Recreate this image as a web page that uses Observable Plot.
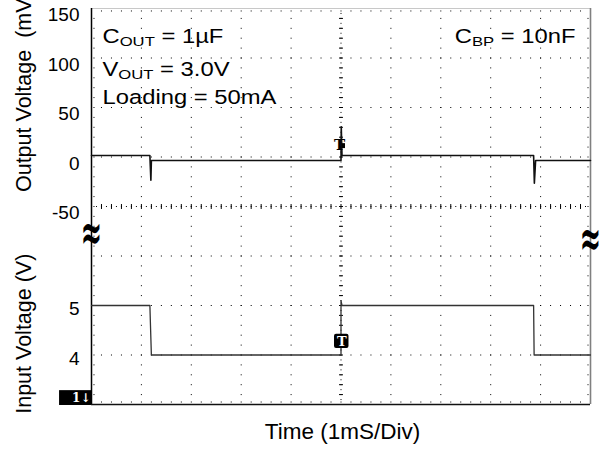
<!DOCTYPE html>
<html><head><meta charset="utf-8">
<script src="https://cdn.jsdelivr.net/npm/d3@7"></script>
<script src="https://cdn.jsdelivr.net/npm/@observablehq/plot@0.6"></script>
<style>
body{margin:0;background:#fff;}
#chart svg{display:block;overflow:visible;}
</style></head><body><div id="chart"></div>
<script>
// Time in ms (1 ms per division)
const outTime = [0, 1.17, 1.19, 1.20, 5.00, 5.005, 5.02, 8.86, 8.875, 8.90, 10];
// Output voltage deviation (mV)
const outMV   = [8, 8, -17, 3, 3, 37, 8, 8, -20, 3, 3];
const inTime  = [0, 1.17, 1.20, 5.00, 5.00, 5.02, 8.86, 8.87, 10];
// Input voltage (V)
const inV     = [5, 5, 4, 4, 5.1, 5, 5, 4, 4];
const outTicks = [150, 100, 50, 0, -50];
const inTicks  = [5, 4];
const notes = ["C_{OUT} = 1µF", "V_{OUT} = 3.0V", "Loading = 50mA", "C_{BP} = 10nF"];
const labels = ["Output Voltage\u00A0 (mV)", "Input Voltage (V)", "Time (1mS/Div)"];
const markers = ["1↓", "T", "≈"];

// scope divisions: output trace and input trace share one 8-division screen
const yOut = mv => 4.87 + mv / 50;
const yIn  = v => v - 3;

const outData = outTime.map((t, i) => ({t, y: yOut(outMV[i])}));
const inData  = inTime.map((t, i) => ({t, y: yIn(inV[i])}));

const outTickPos = outTicks.map(yOut);
const inTickPos  = inTicks.map(yIn);
const tickLabel = new Map([...outTickPos.map((p, i) => [p, String(outTicks[i])]), ...inTickPos.map((p, i) => [p, String(inTicks[i])])]);

const gridX = [1, 2, 3, 4, 6, 7, 8, 9];
const gridY = [1, 2, 3, 5, 6, 7];
const minorX = d3.range(0, 50.5, 1).map(i => i * 0.2);
const minorY = d3.range(0, 40.5, 1).map(i => i * 0.2);

const sans = "'Liberation Sans', Arial, Helvetica, sans-serif";
const serif = "'DejaVu Serif', 'Liberation Serif', serif";

const plot = Plot.plot({
  width: 611, height: 450,
  marginLeft: 91, marginRight: 21, marginTop: 8, marginBottom: 46,
  x: {domain: [0, 10], axis: null},
  y: {domain: [0, 8], axis: null},
  style: {fontFamily: sans, background: "#fff", overflow: "visible"},
  marks: [
    // dotted division grid
    Plot.ruleX(gridX, {stroke: "#000", strokeWidth: 1, strokeDasharray: "1,8.9"}),
    Plot.ruleY(gridY, {stroke: "#000", strokeWidth: 1, strokeDasharray: "1,8.98"}),
    // centre cross with minor ticks
    Plot.ruleX([5], {stroke: "#000", strokeWidth: 1, strokeDasharray: "1,3.95"}),
    Plot.ruleY([4], {stroke: "#000", strokeWidth: 1, strokeDasharray: "1,3.99"}),
    Plot.link(minorX, {x1: d => d, x2: d => d, y1: 3.95, y2: 4.05, stroke: "#000", strokeWidth: 1}),
    Plot.link(minorY, {y1: d => d, y2: d => d, x1: 4.96, x2: 5.04, stroke: "#000", strokeWidth: 1}),
    // edge minor dots
    Plot.ruleX([0.05, 9.95], {stroke: "#000", strokeWidth: 1, strokeDasharray: "1,8.9"}),
    Plot.ruleY([0.05, 7.95], {stroke: "#000", strokeWidth: 1, strokeDasharray: "1,8.98"}),
    // frame
    Plot.ruleY([8], {stroke: "#c8c8c8", strokeWidth: 1}),
    Plot.ruleX([10], {stroke: "#808080", strokeWidth: 1.6}),
    Plot.ruleY([0], {stroke: "#111", strokeWidth: 1.4}),
    Plot.ruleX([0], {stroke: "#000", strokeWidth: 1.5}),
    // traces
    Plot.line(inData, {x: "t", y: "y", stroke: "#333", strokeWidth: 1.3}),
    Plot.line(outData, {x: "t", y: "y", stroke: "#111", strokeWidth: 1.6}),
    // axes
    Plot.axisY(outTickPos, {anchor: "left", tickSize: 0, tickPadding: 12, fontSize: 19, label: null, tickFormat: d => tickLabel.get(d), fill: "#000"}),
    Plot.axisY(inTickPos, {anchor: "left", tickSize: 0, tickPadding: 12, fontSize: 19, label: null, dy: 3.5, tickFormat: d => tickLabel.get(d), fill: "#000"}),
    // axis titles
    Plot.text([labels[0]], {text: d => d, frameAnchor: "left", y: 6.32, dx: -61, rotate: -90, textAnchor: "middle", lineAnchor: "bottom", fontSize: 21.5, fill: "#000"}),
    Plot.text([labels[1]], {text: d => d, frameAnchor: "left", y: 1.43, dx: -61, rotate: -90, textAnchor: "middle", lineAnchor: "bottom", fontSize: 21.5, fill: "#000"}),
    Plot.text([labels[2]], {text: d => d, x: 5.03, frameAnchor: "bottom", dy: 34, textAnchor: "middle", lineAnchor: "bottom", fontSize: 22.5, fill: "#000"}),
    // annotations
    Plot.text([notes[0]], {text: d => d, x: 0.22, y: 7.31, textAnchor: "start", lineAnchor: "bottom", fontSize: 19.5, fill: "#000"}),
    Plot.text([notes[1]], {text: d => d, x: 0.22, y: 6.63, textAnchor: "start", lineAnchor: "bottom", fontSize: 19.5, fill: "#000"}),
    Plot.text([notes[2]], {text: d => d, x: 0.22, y: 6.07, textAnchor: "start", lineAnchor: "bottom", fontSize: 19.5, fill: "#000"}),
    Plot.text([notes[3]], {text: d => d, x: 9.70, y: 7.31, textAnchor: "end", lineAnchor: "bottom", fontSize: 19.5, fill: "#000"}),
    // channel ground marker
    Plot.rect([0], {x1: -0.64, x2: 0, y1: -0.02, y2: 0.28, fill: "#000"}),
    Plot.text([markers[0]], {text: d => d, x: 0, y: 0.13, dx: -1, textAnchor: "end", fill: "#fff", fontFamily: serif, fontWeight: "bold", fontSize: 12}),
    // trigger markers
    Plot.rect([0], {x1: 4.87, x2: 5.16, y1: 1.13, y2: 1.42, fill: "#000", rx: 2}),
    Plot.text([markers[1]], {text: d => d, x: 5.015, y: 1.275, fill: "#fff", fontFamily: serif, fontWeight: "bold", fontSize: 13}),
    Plot.text([markers[1]], {text: d => d, x: 4.97, y: 5.24, fill: "#000", fontFamily: serif, fontWeight: "bold", fontSize: 15}),
    Plot.rect([0], {x1: 5.02, x2: 5.09, y1: 5.17, y2: 5.27, fill: "#000"}),
    // break symbols
    Plot.text([markers[2]], {text: d => d, x: 0, y: 3.12, fill: "#000", fontFamily: serif, fontWeight: "bold", fontSize: 32}),
    Plot.text([markers[2]], {text: d => d, x: 10, y: 2.99, fill: "#000", fontFamily: serif, fontWeight: "bold", fontSize: 32})
  ]
});

document.getElementById("chart").appendChild(plot);

// subscripts and horizontal stretch for the annotation texts
function stretch(node, sx, sy) {
  if (node.hasAttribute("x") || node.hasAttribute("y")) {
    const x = +node.getAttribute("x") || 0, y = +node.getAttribute("y") || 0;
    node.removeAttribute("x"); node.removeAttribute("y");
    const tr = node.getAttribute("transform") || "";
    node.setAttribute("transform", `${tr} translate(${x},${y}) scale(${sx},${sy})`);
  } else {
    const tr = node.getAttribute("transform") || "";
    node.setAttribute("transform", `${tr} scale(${sx},${sy})`);
  }
}
d3.select(plot).selectAll("text").each(function () {
  const t = this.textContent;
  if (notes.includes(t)) {
    if (t.includes("_{")) {
      const parts = t.split(/(_\{[^}]*\})/).filter(p => p);
      this.textContent = "";
      const sel = d3.select(this);
      let low = false;
      for (const p of parts) {
        if (p.startsWith("_{")) {
          sel.append("tspan").attr("font-size", "70%").attr("dy", 3).text(p.slice(2, -1));
          low = true;
        } else {
          const ts = sel.append("tspan").text(p);
          if (low) { ts.attr("dy", -3); low = false; }
        }
      }
    }
    stretch(this, 1.22, 1);
  } else if (t === markers[2]) {
    stretch(this, 0.8, 1.6);
  }
});
</script></body></html>
